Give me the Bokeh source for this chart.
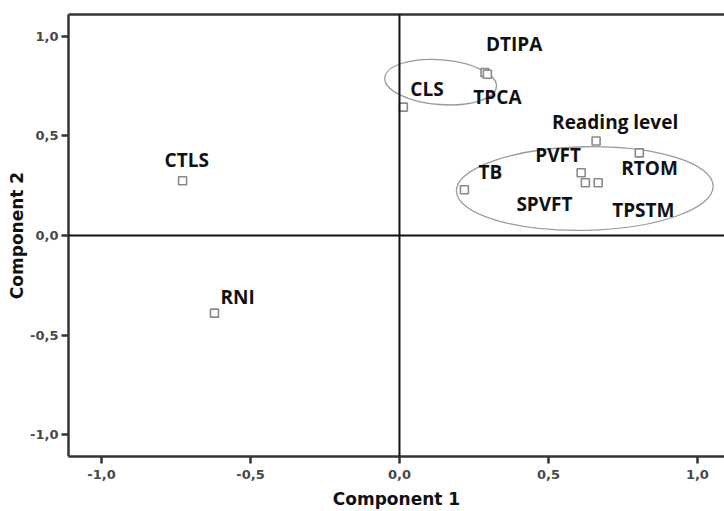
from bokeh.plotting import figure
from bokeh.models import (ColumnDataSource, Span, FixedTicker, CustomJSTickFormatter,
                          LinearAxis, Range1d)
from bokeh.core.properties import value
from bokeh.embed import file_html
from bokeh.resources import INLINE

# ---- data ----
names = ["CTLS", "RNI", "CLS", "DTIPA", "TPCA", "Reading level", "PVFT",
         "RTOM", "TB", "SPVFT", "TPSTM"]
comp1 = [-0.728, -0.621, 0.013, 0.287, 0.295, 0.66, 0.61, 0.805, 0.218, 0.624, 0.667]
comp2 = [0.275, -0.39, 0.645, 0.818, 0.81, 0.475, 0.315, 0.415, 0.23, 0.265, 0.265]
tick_values = [-1.0, -0.5, 0.0, 0.5, 1.0]

# ---- label style offsets (screen px) ----
LABEL_OFFSETS = {
    "CTLS": (-18, -21), "RNI": (6, -16), "CLS": (7, -18), "DTIPA": (1, -29),
    "TPCA": (-14, 23), "Reading level": (-44, -19), "PVFT": (-46, -18),
    "RTOM": (-18, 15), "TB": (14, -18), "SPVFT": (-69, 21), "TPSTM": (14, 27),
}

src = ColumnDataSource(dict(
    x=comp1, y=comp2, name=names,
    dx=[LABEL_OFFSETS[n][0] for n in names],
    dy=[LABEL_OFFSETS[n][1] for n in names],
))

p = figure(width=724, height=511, output_backend="svg", toolbar_location=None,
           x_range=Range1d(-1.111, 1.091), y_range=Range1d(-1.11, 1.11),
           min_border_left=68, min_border_right=0, min_border_top=14,
           min_border_bottom=53, x_axis_label="Component 1",
           y_axis_label="Component 2")
p.outline_line_color = None
p.grid.visible = False
p.background_fill_color = "white"

fmt = CustomJSTickFormatter(code="return tick.toFixed(1).replace('.', ',');")
for ax in (p.xaxis[0], p.yaxis[0]):
    ax.ticker = FixedTicker(ticks=tick_values)
    ax.formatter = fmt
    ax.axis_line_width = 2.5
    ax.axis_line_color = "#333333"
    ax.major_tick_line_width = 2.5
    ax.major_tick_line_color = "#333333"
    ax.major_tick_out = 7
    ax.major_tick_in = 0
    ax.minor_tick_line_color = None
    ax.major_label_text_font = "DejaVu Sans"
    ax.major_label_text_font_size = "13px"
    ax.major_label_text_font_style = "bold"
    ax.major_label_text_color = "#484848"
    ax.axis_label_text_font = "DejaVu Sans"
    ax.axis_label_text_font_style = "bold"
    ax.axis_label_text_color = "#111111"
p.xaxis[0].axis_label_text_font_size = "17px"
p.yaxis[0].axis_label_text_font_size = "17px"
p.yaxis[0].major_label_standoff = 3
p.xaxis[0].major_label_standoff = 6
p.xaxis[0].axis_label_standoff = 7
p.yaxis[0].axis_label_standoff = 0

top = LinearAxis(ticker=FixedTicker(ticks=[]), axis_line_width=2.5,
                 axis_line_color="#333333", major_label_text_font_size="0px",
                 major_tick_line_color=None, minor_tick_line_color=None)
p.add_layout(top, "above")

p.add_layout(Span(location=0, dimension="height", line_color="#111111", line_width=2))
p.add_layout(Span(location=0, dimension="width", line_color="#111111", line_width=2))

# cluster ellipses (annotations)
p.ellipse(x=0.138, y=0.77, width=0.376, height=0.225, angle=-0.08,
          fill_color=None, line_color="#9a9a9a", line_width=1.3)
p.ellipse(x=0.622, y=0.236, width=0.862, height=0.42, angle=0.02,
          fill_color=None, line_color="#9a9a9a", line_width=1.3)

p.scatter("x", "y", source=src, marker="square", size=8, fill_color="white",
          line_color="#8a8a8a", line_width=1.6)
p.text("x", "y", text="name", source=src, x_offset="dx", y_offset="dy",
       text_font=value("Open Sans"), text_font_style="bold",
       text_font_size="19px", text_align="left", text_baseline="middle",
       text_color="#111111")

open("out.html", "w").write(file_html(p, INLINE))
